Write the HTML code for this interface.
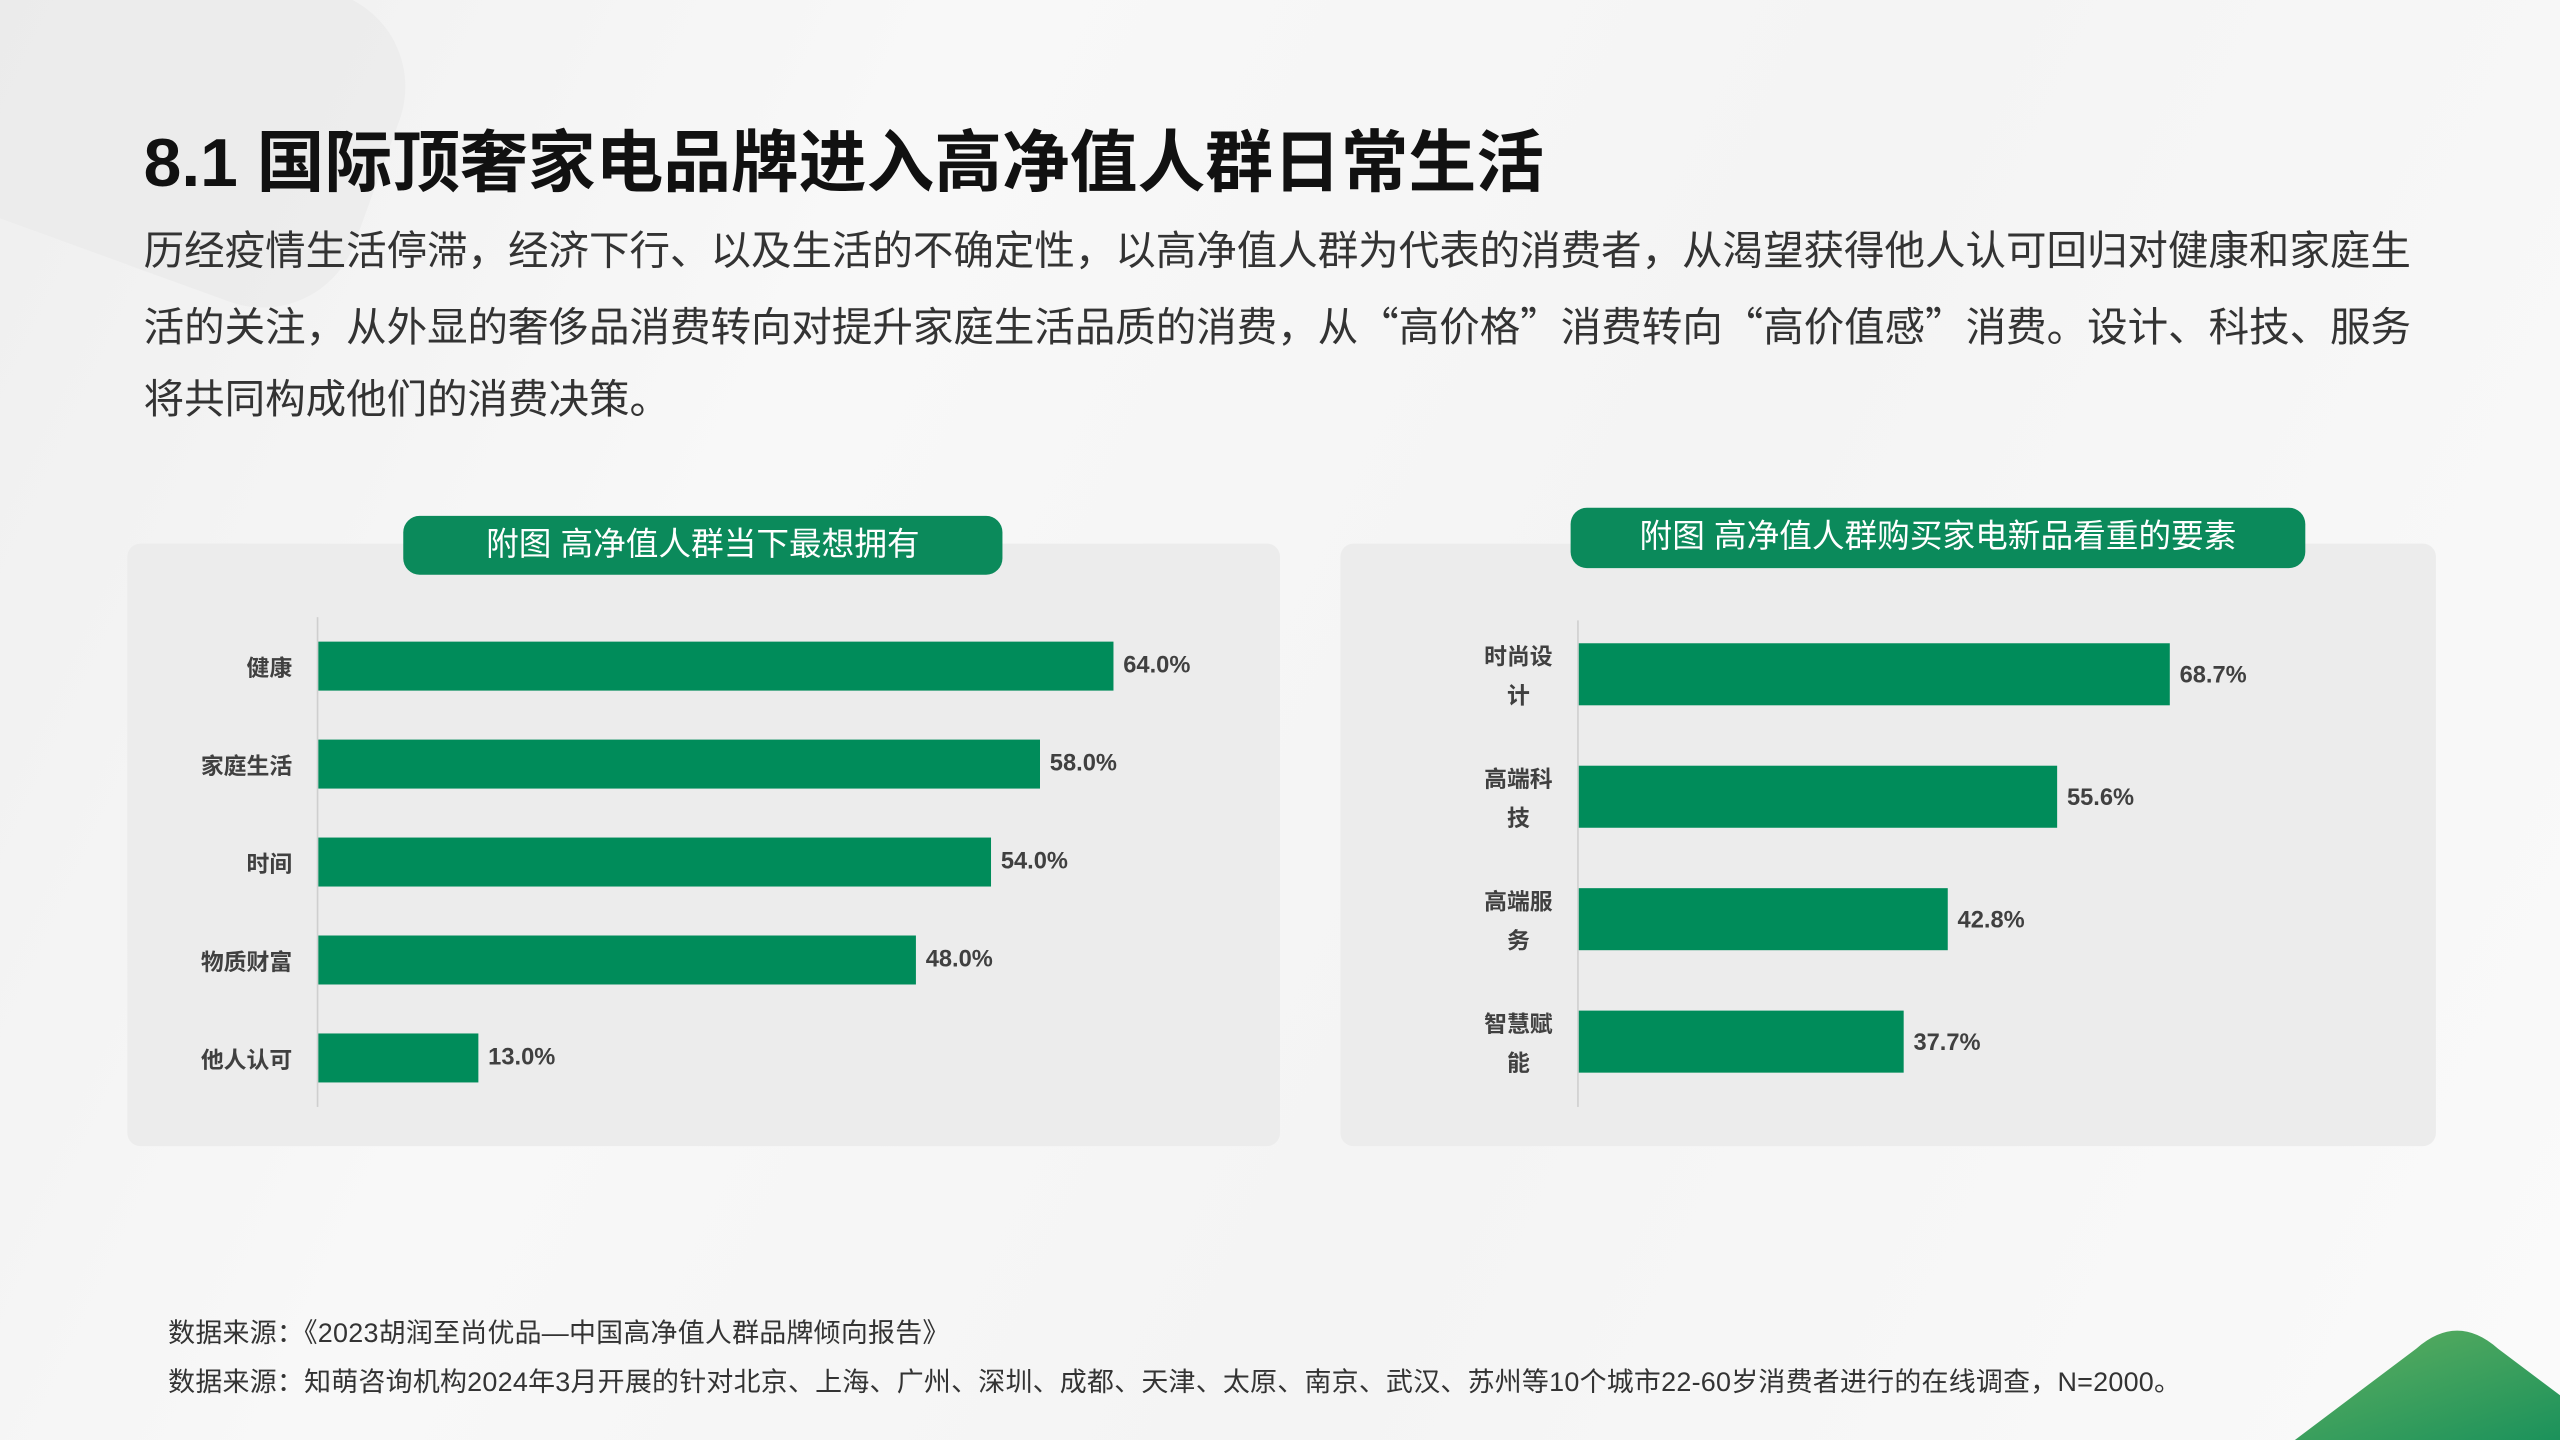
<!DOCTYPE html>
<html><head><meta charset="utf-8">
<style>
html,body{margin:0;padding:0;width:2560px;height:1440px;overflow:hidden;background:#f6f6f6;}
#s{position:absolute;left:0;top:0;width:1568px;height:882px;transform:scale(1.632653);transform-origin:0 0;
 font-family:"Liberation Sans","Noto Sans CJK SC",sans-serif;overflow:hidden;
 background:linear-gradient(115deg,#efefef 0%,#f8f8f8 30%,#f4f4f4 60%,#fafafa 100%);}
.abs{position:absolute;}
.title{left:88px;top:66px;font-size:41.5px;font-weight:bold;color:#111;white-space:nowrap;}
.para{left:88px;top:133px;font-size:24.8px;line-height:44px;color:#333;white-space:nowrap;}
.q{font-family:"Noto Sans CJK SC",sans-serif;}
.panel{background:#ececec;border-radius:8px;}
.pill{background:#0b8a5b;border-radius:10px;color:#fff;font-size:20px;text-align:center;}
.bar{background:#008c5a;}
.lab{font-size:14px;font-weight:bold;color:#404040;white-space:nowrap;}
.val{font-size:14.5px;font-weight:bold;color:#404040;white-space:nowrap;}
.axis{background:#cfcfcf;width:1px;}
.src{left:103px;font-size:16.5px;color:#333;white-space:nowrap;letter-spacing:0.15px;}
</style></head><body>
<div id="s">
<div class="abs" style="left:-60px;top:-40px;width:300px;height:200px;border-radius:60px;background:#eaeaea;opacity:.7;transform:rotate(20deg)"></div>
<div class="abs title">8.1 国际顶奢家电品牌进入高净值人群日常生活</div>
<div class="abs para">历经疫情生活停滞，经济下行、以及生活的不确定性，以高净值人群为代表的消费者，从渴望获得他人认可回归对健康和家庭生<br>活的关注，从外显的奢侈品消费转向对提升家庭生活品质的消费，从<span class="q">“</span>高价格<span class="q">”</span>消费转向<span class="q">“</span>高价值感<span class="q">”</span>消费。设计、科技、服务<br>将共同构成他们的消费决策。</div>

<!-- left chart -->
<div class="abs panel" style="left:78px;top:333px;width:706px;height:369px;"></div>
<div class="abs pill" style="left:247px;top:316px;width:367px;height:36px;line-height:36px;">附图 高净值人群当下最想拥有</div>
<div class="abs axis" style="left:194px;top:378px;height:300px;"></div>
<div class="abs bar" style="left:195px;top:393px;width:487px;height:30px;"></div>
<div class="abs bar" style="left:195px;top:453px;width:442px;height:30px;"></div>
<div class="abs bar" style="left:195px;top:513px;width:412px;height:30px;"></div>
<div class="abs bar" style="left:195px;top:573px;width:366px;height:30px;"></div>
<div class="abs bar" style="left:195px;top:633px;width:98px;height:30px;"></div>
<div class="abs lab" style="right:1389px;top:399px;">健康</div>
<div class="abs lab" style="right:1389px;top:459px;">家庭生活</div>
<div class="abs lab" style="right:1389px;top:519px;">时间</div>
<div class="abs lab" style="right:1389px;top:579px;">物质财富</div>
<div class="abs lab" style="right:1389px;top:639px;">他人认可</div>
<div class="abs val" style="left:688px;top:400px;">64.0%</div>
<div class="abs val" style="left:643px;top:460px;">58.0%</div>
<div class="abs val" style="left:613px;top:520px;">54.0%</div>
<div class="abs val" style="left:567px;top:580px;">48.0%</div>
<div class="abs val" style="left:299px;top:640px;">13.0%</div>

<!-- right chart -->
<div class="abs panel" style="left:821px;top:333px;width:671px;height:369px;"></div>
<div class="abs pill" style="left:962px;top:311px;width:450px;height:37px;line-height:37px;">附图 高净值人群购买家电新品看重的要素</div>
<div class="abs axis" style="left:966px;top:380px;height:298px;"></div>
<div class="abs bar" style="left:967px;top:394px;width:362px;height:38px;"></div>
<div class="abs bar" style="left:967px;top:469px;width:293px;height:38px;"></div>
<div class="abs bar" style="left:967px;top:544px;width:226px;height:38px;"></div>
<div class="abs bar" style="left:967px;top:619px;width:199px;height:38px;"></div>
<div class="abs lab" style="left:900px;width:60px;text-align:center;top:390px;line-height:24px;">时尚设<br>计</div>
<div class="abs lab" style="left:900px;width:60px;text-align:center;top:465px;line-height:24px;">高端科<br>技</div>
<div class="abs lab" style="left:900px;width:60px;text-align:center;top:540px;line-height:24px;">高端服<br>务</div>
<div class="abs lab" style="left:900px;width:60px;text-align:center;top:615px;line-height:24px;">智慧赋<br>能</div>
<div class="abs val" style="left:1335px;top:406px;">68.7%</div>
<div class="abs val" style="left:1266px;top:481px;">55.6%</div>
<div class="abs val" style="left:1199px;top:556px;">42.8%</div>
<div class="abs val" style="left:1172px;top:631px;">37.7%</div>

<div class="abs src" style="top:803px;">数据来源：《2023胡润至尚优品—中国高净值人群品牌倾向报告》</div>
<div class="abs src" style="top:833px;">数据来源：知萌咨询机构2024年3月开展的针对北京、上海、广州、深圳、成都、天津、太原、南京、武汉、苏州等10个城市22-60岁消费者进行的在线调查，N=2000。</div>

<svg class="abs" style="left:1380px;top:790px" width="200" height="100" viewBox="0 0 200 100">
<defs><linearGradient id="g" x1="0" y1="0" x2="1" y2="1"><stop offset="0" stop-color="#62b060"/><stop offset="1" stop-color="#0e8c5a"/></linearGradient></defs>
<path d="M15 100 L100 36 Q125 14 150 36 L235 100 Z" fill="url(#g)"/>
</svg>
</div>
</body></html>
